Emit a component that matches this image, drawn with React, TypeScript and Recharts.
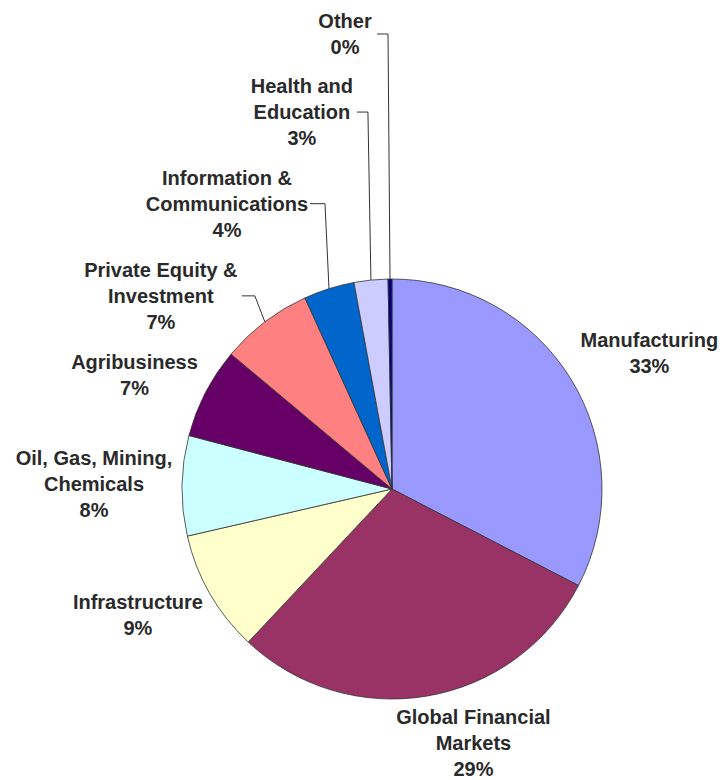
import { Cell, Pie, PieChart } from "recharts";

// sectors, clockwise from 12 o'clock
const categories = [
  "Manufacturing",
  "Global Financial Markets",
  "Infrastructure",
  "Oil, Gas, Mining, Chemicals",
  "Agribusiness",
  "Private Equity & Investment",
  "Information & Communications",
  "Health and Education",
  "Other",
];

// how each category name is wrapped in its label
const labelLines = [
  ["Manufacturing"],
  ["Global Financial", "Markets"],
  ["Infrastructure"],
  ["Oil, Gas, Mining,", "Chemicals"],
  ["Agribusiness"],
  ["Private Equity &", "Investment"],
  ["Information &", "Communications"],
  ["Health and", "Education"],
  ["Other"],
];

// share of portfolio, %
const shares = [32.6, 29.4, 9.4, 7.7, 7.0, 7.1, 3.9, 2.6, 0.3];

const colors = [
  "#9999FF",
  "#993366",
  "#FFFFCC",
  "#CCFFFF",
  "#660066",
  "#FF8080",
  "#0066CC",
  "#CCCCFF",
  "#000080",
];

const data = categories.map((name, i) => ({ name, value: shares[i] }));

// label placement relative to the point on the rim at each slice's mid angle
const labelLayout = [
  { dx: 78, dy: -27 },
  { dx: 46, dy: 47 },
  { dx: -72, dy: 21 },
  { dx: -88, dy: -2 },
  { dx: -71, dy: -17 },
  { dx: -104, dy: -26, elbow: -10, gap: 81 },
  { dx: -102, dy: -85, elbow: -4, gap: 83 },
  { dx: -69, dy: -168, elbow: -3, gap: 55 },
  { dx: -45, dy: -245, elbow: -2, gap: 32 },
];

const RADIAN = Math.PI / 180;
const LINE_H = 26;

const renderLabel = (props: any) => {
  const { cx, cy, midAngle, outerRadius, index, value } = props;
  const ex = cx + outerRadius * Math.cos(-midAngle * RADIAN);
  const ey = cy + outerRadius * Math.sin(-midAngle * RADIAN);
  const lay: any = labelLayout[index];
  const tx = ex + lay.dx;
  const ty = ey + lay.dy;
  const lines = [...labelLines[index], `${Math.round(value)}%`];
  const n = lines.length;

  return (
    <g key={`lbl-${index}`}>
      {lay.elbow !== undefined && (
        <polyline
          points={`${tx + lay.gap},${ty} ${ex + lay.elbow},${ty} ${ex},${ey}`}
          fill="none"
          stroke="#333"
          strokeWidth={1}
        />
      )}
      <text
        x={tx}
        y={ty}
        textAnchor="middle"
        fontFamily="'Liberation Sans', Arial, sans-serif"
        fontSize={20}
        fontWeight="bold"
        fill="#2a2a2a"
      >
        {lines.map((l, i) => (
          <tspan
            key={i}
            x={tx}
            y={ty + (i - (n - 1) / 2) * LINE_H}
            dominantBaseline="central"
          >
            {l}
          </tspan>
        ))}
      </text>
    </g>
  );
};

export default function App() {
  return (
    <div style={{ position: "absolute", left: 0, top: 0, background: "#fff" }}>
      <PieChart
        width={723}
        height={780}
        margin={{ top: 0, right: 0, bottom: 0, left: 0 }}
      >
        <Pie
          data={data}
          dataKey="value"
          nameKey="name"
          cx={392}
          cy={489}
          outerRadius={210}
          startAngle={90}
          endAngle={-270}
          stroke="#333"
          strokeWidth={0.8}
          label={renderLabel}
          labelLine={false}
          isAnimationActive={false}
        >
          {data.map((d, i) => (
            <Cell key={d.name} fill={colors[i]} />
          ))}
        </Pie>
      </PieChart>
    </div>
  );
}
